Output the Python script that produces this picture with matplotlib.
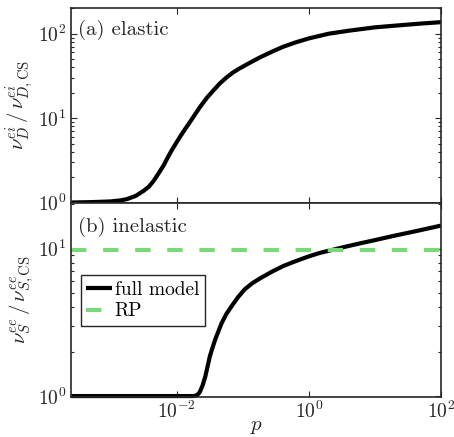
import numpy as np
import matplotlib
matplotlib.use("Agg")
import matplotlib.pyplot as plt
from matplotlib.ticker import LogLocator, NullLocator

plt.rcParams["font.family"] = "serif"
plt.rcParams["font.serif"] = ["cmr10"]
plt.rcParams["mathtext.fontset"] = "cm"
plt.rcParams["axes.formatter.use_mathtext"] = True

# (a) elastic: full model ratio as (log10 p, ratio)
logp_elastic = [-3.6, -3.3, -3.0, -2.85, -2.75, -2.62, -2.5, -2.42, -2.35,
                -2.28, -2.2, -2.14, -2.08, -2.01, -1.95, -1.87, -1.8, -1.72,
                -1.65, -1.55, -1.45, -1.35, -1.25, -1.15, -1.05, -0.9, -0.74,
                -0.55, -0.39, -0.2, 0.0, 0.3, 0.62, 1.0, 1.38, 1.7, 2.0]
ratio_elastic = [1.0, 1.01, 1.03, 1.06, 1.1, 1.2, 1.38, 1.55, 1.81,
                 2.19, 2.75, 3.39, 4.12, 5.07, 6.03, 7.5, 9.0, 11.2,
                 13.5, 17.2, 21.1, 25.7, 30.2, 34.7, 38.8, 45.0, 52.5,
                 61.7, 70.0, 79.0, 88.0, 100.0, 109.0, 119.0, 126.0, 132.0, 137.0]

# (b) inelastic: full model and RP
logp_inelastic = [-3.6, -1.85, -1.75, -1.7, -1.67, -1.65, -1.61, -1.57, -1.535,
                  -1.5, -1.46, -1.42, -1.37, -1.32, -1.25, -1.17, -1.07, -0.97,
                  -0.85, -0.72, -0.55, -0.39, -0.25, -0.14, 0.0, 0.17, 0.38,
                  0.58, 0.78, 1.0, 1.29, 1.65, 2.0]
ratio_inelastic = [1.0, 1.0, 1.0, 1.01, 1.04, 1.07, 1.18, 1.35, 1.58,
                   1.86, 2.12, 2.41, 2.75, 3.13, 3.6, 4.07, 4.7, 5.3,
                   5.85, 6.35, 7.0, 7.6, 8.05, 8.4, 8.85, 9.35, 9.85,
                   10.35, 10.85, 11.4, 12.2, 13.2, 14.3]
rp_value = 9.7

green = "#7ad77a"
dark = "#262626"

fig = plt.figure(figsize=(4.54, 4.37), dpi=100)
gs = fig.add_gridspec(2, 1, left=0.1564, right=0.9714, top=0.981,
                      bottom=0.0922, hspace=0)
ax1 = fig.add_subplot(gs[0])
ax2 = fig.add_subplot(gs[1], sharex=ax1)

ax1.plot(10.0 ** np.array(logp_elastic), ratio_elastic, color="black", lw=3,
         clip_on=False, solid_capstyle="butt")
ax2.plot(10.0 ** np.array(logp_inelastic), ratio_inelastic, color="black", lw=3,
         label="full model", clip_on=False, solid_capstyle="butt")
ax2.axhline(rp_value, color=green, lw=3, dashes=(3.7, 4.0), label="RP")

for ax in (ax1, ax2):
    ax.set_xscale("log")
    ax.set_yscale("log")
    ax.xaxis.set_major_locator(LogLocator(base=100.0))
    ax.xaxis.set_minor_locator(NullLocator())
    ax.yaxis.set_major_locator(LogLocator(base=10.0))
    ax.yaxis.set_minor_locator(LogLocator(base=10.0, subs=np.arange(2, 10)))
    ax.tick_params(which="both", direction="in", top=True, right=True,
                   labelsize=14, colors=dark, width=0.8)
    ax.tick_params(which="major", length=4)
    ax.tick_params(which="minor", length=2.2)
    for s in ax.spines.values():
        s.set_color(dark)
        s.set_linewidth(1.2)

ax1.set_xlim(2.5e-4, 100)
ax1.set_ylim(1, 200)
ax2.set_ylim(0.99, 20.5)
ax1.tick_params(labelbottom=False)
ax2.tick_params(axis="x", pad=3)

ax1.set_ylabel(r"$\nu_D^{ei}\,/\,\nu_{D,\mathrm{CS}}^{ei}$", fontsize=15, color=dark)
ax2.set_ylabel(r"$\nu_S^{ee}\,/\,\nu_{S,\mathrm{CS}}^{ee}$", fontsize=15, color=dark)
ax1.yaxis.set_label_coords(-0.095, 0.5)
ax2.yaxis.set_label_coords(-0.095, 0.5)
ax2.set_xlabel(r"$p$", fontsize=15, color=dark)
ax2.xaxis.set_label_coords(0.5, -0.108)

ax1.text(0.02, 0.94, "(a) elastic", transform=ax1.transAxes, fontsize=15,
         va="top", ha="left", color=dark)
ax2.text(0.02, 0.925, "(b) inelastic", transform=ax2.transAxes, fontsize=15,
         va="top", ha="left", color=dark)

leg = ax2.legend(loc="upper left", bbox_to_anchor=(0.026, 0.628),
                 borderaxespad=0, fontsize=14, fancybox=False, framealpha=1,
                 edgecolor=dark, handlelength=1.3, handletextpad=0.15,
                 borderpad=0.3, labelspacing=0.2)
leg.get_frame().set_linewidth(1.0)

fig.savefig("out.png", dpi=100)
